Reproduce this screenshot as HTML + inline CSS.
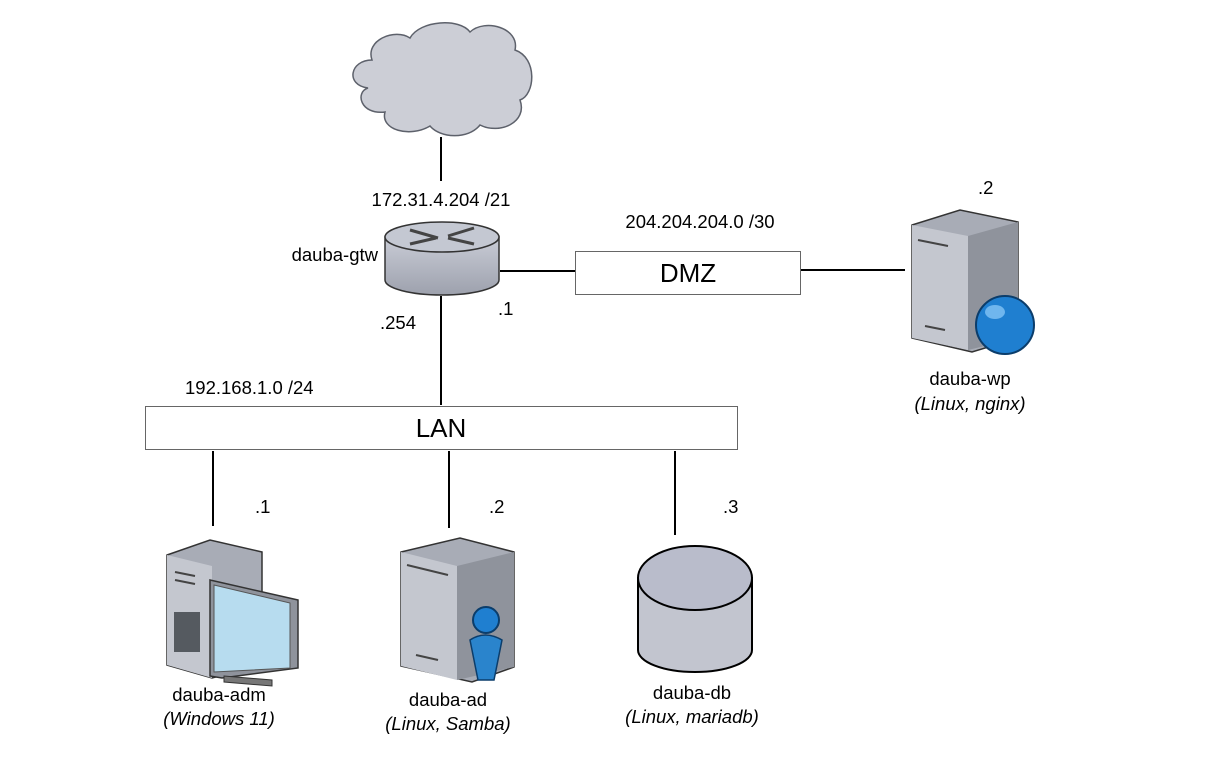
<!DOCTYPE html>
<html><head><meta charset="utf-8"><style>
html,body{margin:0;padding:0;background:#fff;}
svg text{font-family:"Liberation Sans",Arial,sans-serif;fill:#000;}
</style></head><body>
<svg width="1224" height="759" viewBox="0 0 1224 759" xmlns="http://www.w3.org/2000/svg">
<defs>
<linearGradient id="g1" x1="0" y1="0" x2="0" y2="1"><stop offset="0" stop-color="#c9ccd6"/><stop offset="1" stop-color="#9da1ad"/></linearGradient>
</defs>
<path d="M372,60 C365,40 395,28 410,38 C420,20 460,18 470,32 C485,18 520,28 515,50 C538,58 535,95 520,100 C528,122 500,135 480,125 C468,140 440,138 430,126 C410,138 380,130 385,112 C360,115 355,92 368,88 C345,85 350,60 372,60 Z" fill="#ccced6" stroke="#5d616b" stroke-width="1.5"/>
<g stroke="#000" stroke-width="2" fill="none">
<line x1="441" y1="137" x2="441" y2="181"/>
<line x1="441" y1="296" x2="441" y2="405"/>
<line x1="500" y1="271" x2="575" y2="271"/>
<line x1="801" y1="270" x2="905" y2="270"/>
<line x1="213" y1="451" x2="213" y2="526"/>
<line x1="449" y1="451" x2="449" y2="528"/>
<line x1="675" y1="451" x2="675" y2="535"/>
</g>
<rect x="575.5" y="251.5" width="225" height="43" fill="#fff" stroke="#666" stroke-width="1"/>
<rect x="145.5" y="406.5" width="592" height="43" fill="#fff" stroke="#666" stroke-width="1"/>
<path d="M385,237 L385,280 A57,15 0 0 0 499,280 L499,237 Z" fill="url(#g1)" stroke="#333" stroke-width="1.5"/>
<ellipse cx="442" cy="237" rx="57" ry="15" fill="#c4c8d2" stroke="#333" stroke-width="1.5"/>
<g stroke="#444" stroke-width="3"><line x1="410" y1="230" x2="438" y2="238"/><line x1="410" y1="244" x2="436" y2="238"/><line x1="448" y1="236" x2="474" y2="228"/><line x1="448" y1="238" x2="474" y2="244"/></g>
<g>
<path d="M912,225 L960,210 L1018,222 L1018,338 L972,352 L912,338 Z" fill="#a8acb6" stroke="#333" stroke-width="1.5"/>
<path d="M912,225 L968,236 L968,350 L912,338 Z" fill="#c4c7cf"/>
<path d="M968,236 L1018,222 L1018,338 L968,350 Z" fill="#8f939c"/>
<line x1="918" y1="240" x2="948" y2="246" stroke="#444" stroke-width="2"/>
<line x1="925" y1="326" x2="945" y2="330" stroke="#444" stroke-width="2"/>
<circle cx="1005" cy="325" r="29" fill="#1f7fd0" stroke="#0b3d6b" stroke-width="2"/>
<ellipse cx="995" cy="312" rx="10" ry="7" fill="#6fb6ee"/>
</g>
<g>
<path d="M167,555 L210,540 L262,552 L262,665 L212,678 L167,665 Z" fill="#a8acb6" stroke="#333" stroke-width="1.5"/>
<path d="M167,555 L212,566 L212,678 L167,665 Z" fill="#c4c7cf"/>
<line x1="175" y1="572" x2="195" y2="576" stroke="#444" stroke-width="2"/>
<line x1="175" y1="580" x2="195" y2="584" stroke="#444" stroke-width="2"/>
<rect x="174" y="612" width="26" height="40" fill="#555a60"/>
<path d="M210,580 L298,600 L298,668 L222,678 L210,676 Z" fill="#8f939c" stroke="#333" stroke-width="1.5"/>
<path d="M214,585 L290,603 L290,668 L214,672 Z" fill="#b7dcef" stroke="#555" stroke-width="1"/>
<path d="M224,676 L272,680 L272,686 L224,682 Z" fill="#777" stroke="#333"/>
</g>
<g>
<path d="M401,552 L460,538 L514,552 L514,667 L472,682 L401,666 Z" fill="#a8acb6" stroke="#333" stroke-width="1.5"/>
<path d="M401,552 L457,566 L457,680 L401,666 Z" fill="#c4c7cf"/>
<path d="M457,566 L514,552 L514,667 L457,680 Z" fill="#8f939c"/>
<line x1="407" y1="565" x2="448" y2="575" stroke="#444" stroke-width="2"/>
<line x1="416" y1="655" x2="438" y2="660" stroke="#444" stroke-width="2"/>
<path d="M470,640 Q485,630 502,640 L494,680 L478,680 Z" fill="#2a84cc" stroke="#0b3d6b" stroke-width="1.5"/>
<circle cx="486" cy="620" r="13" fill="#1f7fd0" stroke="#0b3d6b" stroke-width="2"/>
</g>
<g>
<path d="M638,578 L638,650 A57,22 0 0 0 752,650 L752,578 Z" fill="#c2c5cf" stroke="#000" stroke-width="2"/>
<ellipse cx="695" cy="578" rx="57" ry="32" fill="#b9bccb" stroke="#000" stroke-width="2"/>
</g>
<g font-size="18.5">
<text x="441" y="206" text-anchor="middle">172.31.4.204 /21</text>
<text x="378" y="261" text-anchor="end">dauba-gtw</text>
<text x="700" y="228" text-anchor="middle">204.204.204.0 /30</text>
<text x="498" y="315">.1</text>
<text x="380" y="329">.254</text>
<text x="978" y="194">.2</text>
<text x="185" y="394">192.168.1.0 /24</text>
<text x="255" y="513">.1</text>
<text x="489" y="513">.2</text>
<text x="723" y="513">.3</text>
<text x="970" y="385" text-anchor="middle">dauba-wp</text>
<text x="970" y="410" text-anchor="middle" font-style="italic">(Linux, nginx)</text>
<text x="219" y="701" text-anchor="middle">dauba-adm</text>
<text x="219" y="725" text-anchor="middle" font-style="italic">(Windows 11)</text>
<text x="448" y="706" text-anchor="middle">dauba-ad</text>
<text x="448" y="730" text-anchor="middle" font-style="italic">(Linux, Samba)</text>
<text x="692" y="699" text-anchor="middle">dauba-db</text>
<text x="692" y="723" text-anchor="middle" font-style="italic">(Linux, mariadb)</text>
</g>
<text x="688" y="282" font-size="26" text-anchor="middle">DMZ</text>
<text x="441" y="437" font-size="26" text-anchor="middle">LAN</text>
</svg>
</body></html>
